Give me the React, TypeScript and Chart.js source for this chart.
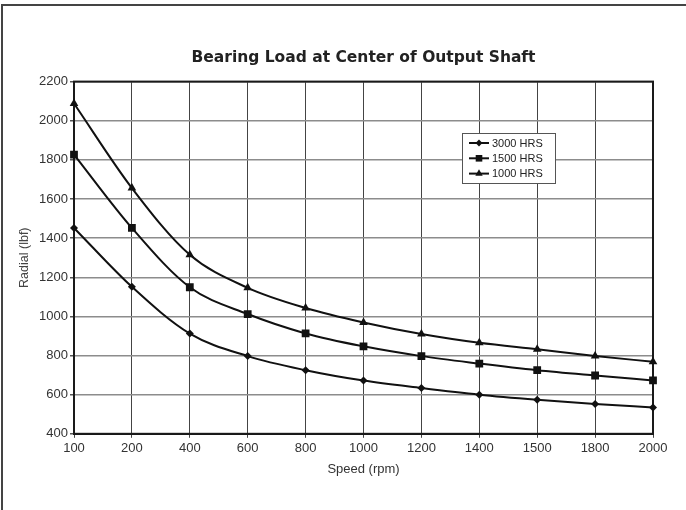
import React, { useEffect, useRef } from "react";
import { Chart, registerables } from "chart.js";

Chart.register(...registerables);

const speeds = ["100", "200", "400", "600", "800", "1000", "1200", "1400", "1500", "1800", "2000"];
const hrs3000 = [1452, 1151, 912, 797, 725, 672, 634, 600, 574, 552, 535];
const hrs1500 = [1827, 1452, 1149, 1012, 913, 847, 797, 759, 725, 698, 673];
const hrs1000 = [2088, 1656, 1315, 1146, 1043, 969, 910, 865, 832, 798, 768];
const seriesNames = ["3000 HRS", "1500 HRS", "1000 HRS"];
const yMin = 400;
const yMax = 2200;
const yStep = 200;

const FONT = "'Liberation Sans', Arial, sans-serif";

const framePlugin = {
  id: "frame",
  beforeDatasetsDraw(chart: any) {
    const { ctx, chartArea } = chart;
    ctx.save();
    ctx.strokeStyle = "#1a1a1a";
    ctx.lineWidth = 2;
    ctx.strokeRect(chartArea.left, chartArea.top, chartArea.right - chartArea.left, chartArea.bottom - chartArea.top);
    ctx.restore();
  },
};

const legendPlugin = {
  id: "boxLegend",
  afterDraw(chart: any) {
    const { ctx } = chart;
    const x = 462;
    const y = 133;
    const w = 93;
    const h = 50;
    ctx.save();
    ctx.fillStyle = "#ffffff";
    ctx.fillRect(x, y, w, h);
    ctx.strokeStyle = "#555";
    ctx.lineWidth = 1;
    ctx.strokeRect(x + 0.5, y + 0.5, w, h);
    ctx.font = `11px ${FONT}`;
    ctx.textBaseline = "middle";
    chart.data.datasets.forEach((ds: any, i: number) => {
      const cy = y + 10 + i * 15.3;
      ctx.strokeStyle = "#111";
      ctx.lineWidth = 2;
      ctx.beginPath();
      ctx.moveTo(x + 7, cy);
      ctx.lineTo(x + 27, cy);
      ctx.stroke();
      ctx.fillStyle = "#111";
      const r = ds.pointRadius * 0.85;
      ctx.beginPath();
      if (ds.pointStyle === "rectRot") {
        ctx.moveTo(x + 17, cy - r);
        ctx.lineTo(x + 17 + r, cy);
        ctx.lineTo(x + 17, cy + r);
        ctx.lineTo(x + 17 - r, cy);
        ctx.closePath();
      } else if (ds.pointStyle === "rect") {
        const s = r * Math.SQRT1_2;
        ctx.rect(x + 17 - s, cy - s, 2 * s, 2 * s);
      } else {
        ctx.moveTo(x + 17, cy - r);
        ctx.lineTo(x + 17 + r * 0.87, cy + r * 0.5);
        ctx.lineTo(x + 17 - r * 0.87, cy + r * 0.5);
        ctx.closePath();
      }
      ctx.fill();
      ctx.fillStyle = "#222";
      ctx.fillText(ds.label, x + 30, cy + 0.5);
    });
    ctx.restore();
  },
};

export default function App() {
  const ref = useRef<HTMLCanvasElement | null>(null);

  useEffect(() => {
    document.body.style.margin = "0";
    if (!ref.current) return;
    const mk = (label: string, data: number[], style: string, radius: number) => ({
      label,
      data,
      borderColor: "#111",
      backgroundColor: "#111",
      borderWidth: 2,
      pointStyle: style,
      pointRadius: radius,
      pointBorderWidth: 0,
      pointBackgroundColor: "#111",
      tension: 0.4,
      cubicInterpolationMode: "monotone" as const,
      fill: false,
    });
    const chart = new Chart(ref.current, {
      type: "line",
      data: {
        labels: speeds,
        datasets: [
          mk(seriesNames[0], hrs3000, "rectRot", 4),
          mk(seriesNames[1], hrs1500, "rect", 5.5),
          mk(seriesNames[2], hrs1000, "triangle", 5),
        ],
      },
      options: {
        responsive: false,
        animation: false,
        layout: { padding: { left: 0, right: 33, top: 0, bottom: 33 } },
        plugins: {
          legend: { display: false },
          tooltip: { enabled: false },
          title: {
            display: true,
            text: "Bearing Load at Center of Output Shaft",
            fullSize: false,
            color: "#222",
            font: { family: "'DejaVu Sans', sans-serif", size: 15.5, weight: "bold" },
            padding: { top: 49, bottom: 14 },
          },
        },
        scales: {
          x: {
            type: "category",
            offset: false,
            grid: {
              color: "#444",
              lineWidth: 1,
              tickLength: 4,
              tickColor: "#444",
            },
            border: { color: "#1a1a1a", width: 2 },
            ticks: {
              color: "#333",
              font: { family: FONT, size: 13 },
              padding: 3,
              maxRotation: 0,
              autoSkip: false,
            },
            title: {
              display: true,
              text: "Speed (rpm)",
              color: "#333",
              font: { family: FONT, size: 13 },
              padding: { top: 2, bottom: 0 },
            },
          },
          y: {
            min: yMin,
            max: yMax,
            ticks: {
              stepSize: yStep,
              color: "#333",
              font: { family: FONT, size: 13 },
              padding: 2,
              callback: (v: any) => String(v),
            },
            grid: {
              color: "#8c8c8c",
              lineWidth: 1.5,
              tickLength: 4,
              tickColor: "#555",
            },
            border: { color: "#1a1a1a", width: 2 },
            title: {
              display: true,
              text: "Radial (lbf)",
              color: "#444",
              font: { family: FONT, size: 12.5 },
              padding: { top: 17, bottom: 0 },
            },
            afterFit: (s: any) => {
              s.width = 74;
            },
          },
        },
      },
      plugins: [framePlugin, legendPlugin],
    });
    return () => chart.destroy();
  }, []);

  return (
    <div style={{ position: "relative", width: 686, height: 510, background: "#fff", overflow: "hidden" }}>
      <div
        style={{
          position: "absolute",
          left: 1,
          top: 4,
          width: 700,
          height: 600,
          borderTop: "2px solid #444",
          borderLeft: "2px solid #444",
          pointerEvents: "none",
        }}
      />
      <canvas ref={ref} width={686} height={510} style={{ position: "absolute", left: 0, top: 0 }} />
    </div>
  );
}
